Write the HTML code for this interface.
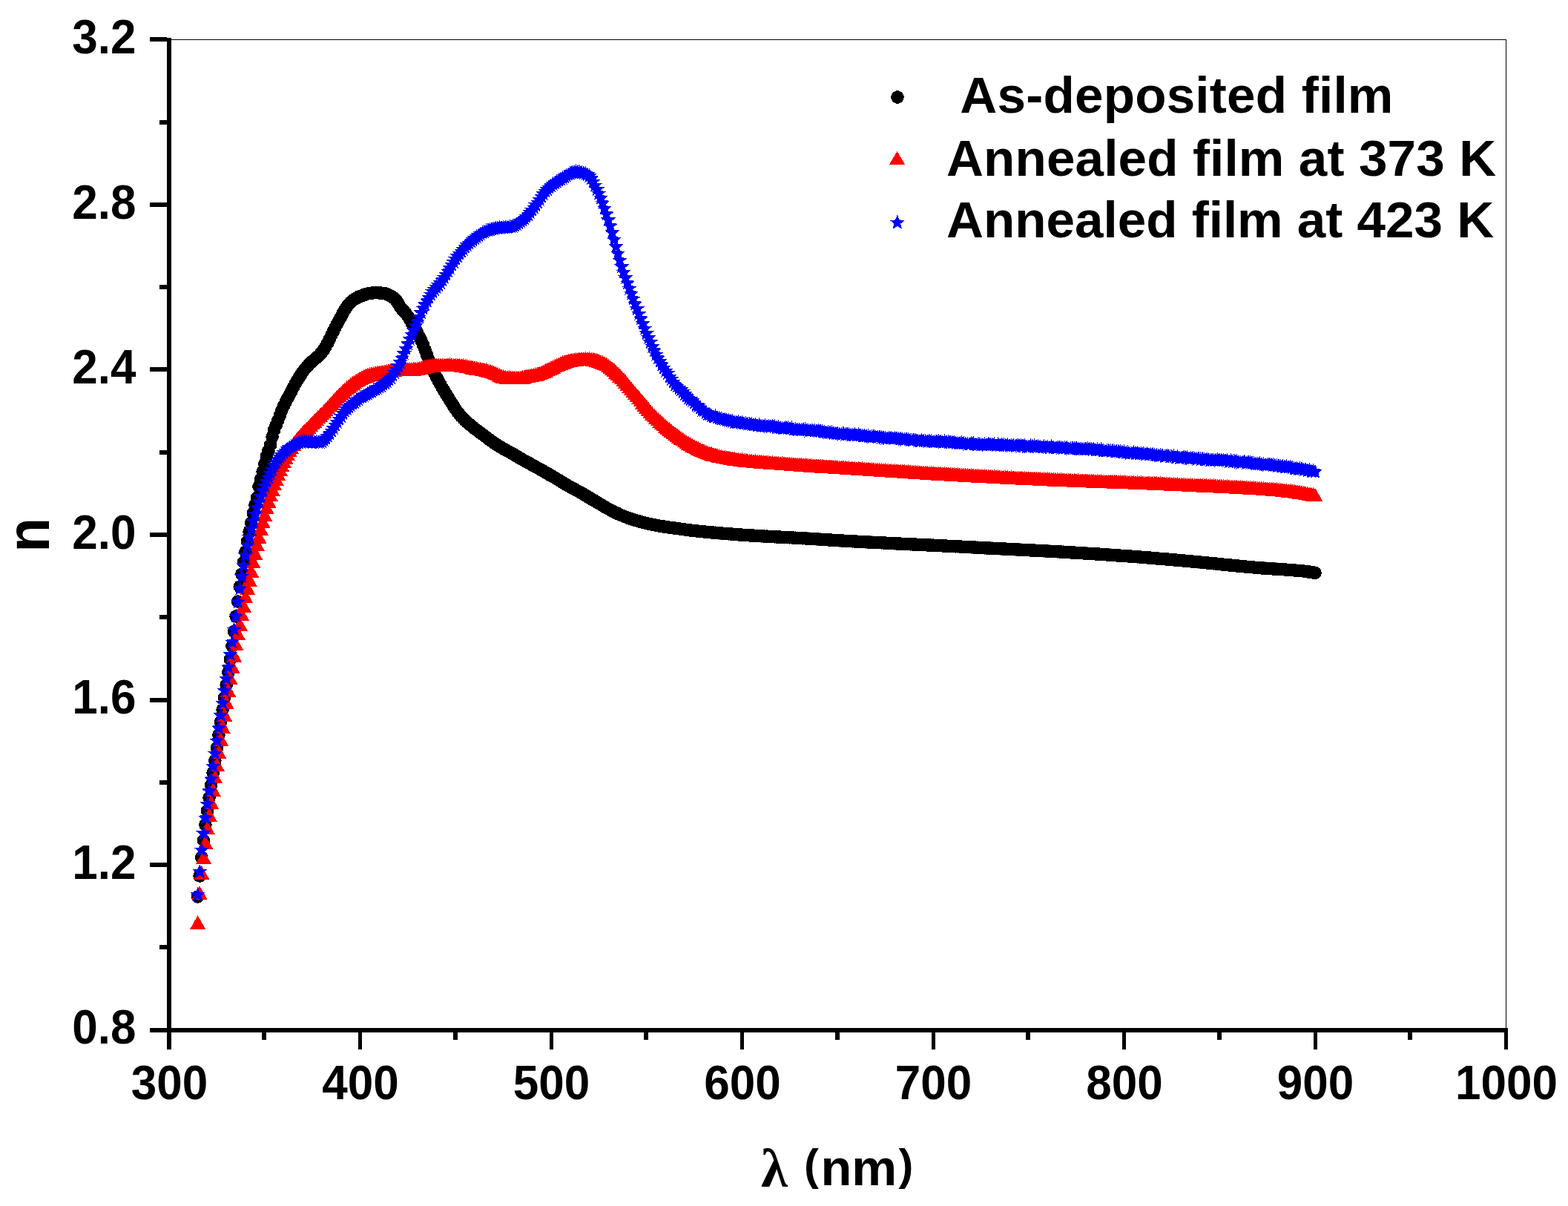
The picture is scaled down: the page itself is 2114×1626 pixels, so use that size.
<!DOCTYPE html>
<html><head><meta charset="utf-8"><title>n vs wavelength</title>
<style>html,body{margin:0;padding:0;background:#fff;overflow:hidden}svg{display:block}</style>
</head><body>
<svg width="2114" height="1626" viewBox="0 0 2114 1626" shape-rendering="crispEdges"><defs><marker id="mc" markerUnits="userSpaceOnUse" markerWidth="20" markerHeight="20" refX="10" refY="10" overflow="visible"><circle cx="10" cy="10" r="8.8" fill="#000"/></marker><marker id="mt" markerUnits="userSpaceOnUse" markerWidth="24" markerHeight="24" refX="12" refY="12" overflow="visible"><path d="M12,2.65 L22.5,21.35 L1.5,21.35Z" fill="#f00"/></marker><marker id="ms" markerUnits="userSpaceOnUse" markerWidth="24" markerHeight="24" refX="12" refY="12" overflow="visible"><path transform="translate(12 12)" d="M0.00,-10.50 L2.76,-3.80 L9.99,-3.24 L4.47,1.45 L6.17,8.49 L0.00,4.70 L-6.17,8.49 L-4.47,1.45 L-9.99,-3.24 L-2.76,-3.80Z" fill="#00f"/></marker></defs><rect x="0" y="0" width="2114" height="1626" fill="#fff"/><rect x="231" y="53" width="1800" height="1" fill="#000"/><rect x="2030" y="53" width="1" height="1334" fill="#000"/><rect x="225" y="51" width="6" height="1341" fill="#000"/><rect x="225" y="1386" width="1808" height="6" fill="#000"/><rect x="202" y="1386" width="23" height="6" fill="#000"/><rect x="202" y="1163" width="23" height="6" fill="#000"/><rect x="202" y="941" width="23" height="6" fill="#000"/><rect x="202" y="718" width="23" height="6" fill="#000"/><rect x="202" y="495" width="23" height="6" fill="#000"/><rect x="202" y="273" width="23" height="6" fill="#000"/><rect x="202" y="50" width="23" height="6" fill="#000"/><rect x="215" y="1274" width="10" height="6" fill="#000"/><rect x="215" y="1052" width="10" height="6" fill="#000"/><rect x="215" y="829" width="10" height="6" fill="#000"/><rect x="215" y="607" width="10" height="6" fill="#000"/><rect x="215" y="384" width="10" height="6" fill="#000"/><rect x="215" y="162" width="10" height="6" fill="#000"/><rect x="483" y="1392" width="5" height="23" fill="#000"/><rect x="741" y="1392" width="5" height="23" fill="#000"/><rect x="998" y="1392" width="5" height="23" fill="#000"/><rect x="1256" y="1392" width="5" height="23" fill="#000"/><rect x="1513" y="1392" width="5" height="23" fill="#000"/><rect x="1771" y="1392" width="5" height="23" fill="#000"/><rect x="2028" y="1392" width="5" height="23" fill="#000"/><rect x="225" y="1392" width="6" height="23" fill="#000"/><rect x="353" y="1392" width="6" height="10" fill="#000"/><rect x="611" y="1392" width="6" height="10" fill="#000"/><rect x="868" y="1392" width="6" height="10" fill="#000"/><rect x="1126" y="1392" width="6" height="10" fill="#000"/><rect x="1383" y="1392" width="6" height="10" fill="#000"/><rect x="1641" y="1392" width="6" height="10" fill="#000"/><rect x="1898" y="1392" width="6" height="10" fill="#000"/><g font-family="Liberation Sans, Arial, sans-serif" font-weight="bold" font-size="62" fill="#000"><text x="183.5" y="0" text-anchor="end" transform="translate(0 1407.4) scale(1 1.04)">0.8</text><text x="183.5" y="0" text-anchor="end" transform="translate(0 1184.9) scale(1 1.04)">1.2</text><text x="183.5" y="0" text-anchor="end" transform="translate(0 962.4) scale(1 1.04)">1.6</text><text x="183.5" y="0" text-anchor="end" transform="translate(0 739.9) scale(1 1.04)">2.0</text><text x="183.5" y="0" text-anchor="end" transform="translate(0 517.4) scale(1 1.04)">2.4</text><text x="183.5" y="0" text-anchor="end" transform="translate(0 294.9) scale(1 1.04)">2.8</text><text x="183.5" y="0" text-anchor="end" transform="translate(0 72.4) scale(1 1.04)">3.2</text><text x="228.5" y="0" text-anchor="middle" transform="translate(0 1481.5) scale(1 1.04)">300</text><text x="486" y="0" text-anchor="middle" transform="translate(0 1481.5) scale(1 1.04)">400</text><text x="743.5" y="0" text-anchor="middle" transform="translate(0 1481.5) scale(1 1.04)">500</text><text x="1001" y="0" text-anchor="middle" transform="translate(0 1481.5) scale(1 1.04)">600</text><text x="1258.5" y="0" text-anchor="middle" transform="translate(0 1481.5) scale(1 1.04)">700</text><text x="1516" y="0" text-anchor="middle" transform="translate(0 1481.5) scale(1 1.04)">800</text><text x="1773.5" y="0" text-anchor="middle" transform="translate(0 1481.5) scale(1 1.04)">900</text><text x="2031" y="0" text-anchor="middle" transform="translate(0 1481.5) scale(1 1.04)">1000</text></g><text x="0" y="0" font-family="Liberation Sans, Arial, sans-serif" font-weight="bold" font-size="76.2" transform="translate(65.7 744.5) rotate(-90) scale(1 1.067)">n</text><g font-weight="bold" fill="#000"><text x="1026.1" y="1599.5" font-family="Liberation Serif, Times New Roman, serif" font-size="73">λ</text><g font-family="Liberation Sans, Arial, sans-serif" font-size="68.5"><text x="1083.6" y="1598" transform="translate(1087 1548) scale(0.87 0.858) translate(-1087 -1548)">(</text><text x="1106.4" y="1598">nm</text><text x="1209.1" y="1598" transform="translate(1228.5 1548) scale(0.87 0.858) translate(-1228.5 -1548)">)</text></g></g><g font-family="Liberation Sans, Arial, sans-serif" font-weight="bold" font-size="69.2" fill="#000"><text x="1277.5" y="152.4" letter-spacing="0.22" xml:space="preserve"> As-deposited film</text><text x="1276" y="236.6" letter-spacing="0.14">Annealed film at 373 K</text><text x="1276" y="320.2">Annealed film at 423 K</text></g><circle cx="1210" cy="131" r="8.8" fill="#000"/><path d="M1209.5,204 L1220,221.6 L1199,221.6Z" fill="#f00"/><path transform="translate(1209.8 300.2)" d="M0.00,-10.50 L2.76,-3.80 L9.99,-3.24 L4.47,1.45 L6.17,8.49 L0.00,4.70 L-6.17,8.49 L-4.47,1.45 L-9.99,-3.24 L-2.76,-3.80Z" fill="#00f"/><polyline fill="none" stroke="none" marker-start="url(#mc)" marker-mid="url(#mc)" marker-end="url(#mc)" points="266.6,1209 269.2,1181 271.8,1156 274.4,1133 276.9,1112 279.5,1093 282.1,1075.5 284.6,1058.5 287.2,1042 289.8,1025.5 292.4,1008.5 294.9,991 297.5,973.5 300.1,957 302.7,940.5 305.2,923.5 307.8,906.5 310.4,889 313,871 315.6,851.5 318.1,831 320.7,811 323.3,791 325.9,774 328.4,758 331,744 333.6,730 336.1,717 338.7,705 341.3,692 343.9,681 346.4,671 349,656.1 351.6,646.2 354.2,636 356.8,625.6 359.3,615.4 361.9,607.7 364.5,600 367.1,589 369.6,579.9 372.2,573.1 374.8,566.7 377.4,559.8 379.9,553.1 382.5,547.2 385.1,542.1 387.6,537.3 390.2,532.6 392.8,527.6 395.4,522.6 398,517.7 400.5,513.3 403.1,509.1 405.7,505.1 408.2,501.4 410.8,497.9 413.4,494.8 416,492 418.6,489.4 421.1,487 423.7,484.8 426.3,482.7 428.9,480.4 431.4,477.8 434,474.8 436.6,471.4 439.1,467.5 441.7,462.7 444.3,457.3 446.9,451.8 449.5,446.6 452,441.6 454.6,436.7 457.2,431.9 459.8,427.2 462.3,422.3 464.9,417.6 467.5,413.7 470.1,410.5 472.6,407.8 475.2,405.4 477.8,403.4 480.4,401.9 482.9,400.6 485.5,399.5 488.1,398.6 490.7,397.7 493.2,396.8 495.8,396 498.4,395.6 501,395.2 503.5,394.9 506.1,394.7 508.7,394.7 511.2,394.8 513.8,395.1 516.4,395.4 519,395.8 521.5,396.6 524.1,397.7 526.7,399 529.3,400.6 531.9,402.7 534.4,405.3 537,409.2 539.6,413.8 542.2,417 544.7,419.7 547.3,422.6 549.9,426.3 552.5,430.7 555,435.3 557.6,439.9 560.2,444.4 562.8,449 565.3,453.9 567.9,459.1 570.5,465 573,471.8 575.6,478.7 578.2,485.3 580.8,491.9 583.4,497.9 585.9,503.4 588.5,508.6 591.1,513.5 593.7,518.2 596.2,522.7 598.8,527 601.4,531.3 604,535.4 606.5,539.6 609.1,543.8 611.7,547.8 614.2,551.7 616.8,555.4 619.4,558.7 622,561.7 624.5,564.4 627.1,566.9 629.7,569.3 632.3,571.5 634.9,573.7 637.4,575.8 640,577.9 642.6,579.8 645.2,581.7 647.7,583.6 650.3,585.5 652.9,587.5 655.5,589.4 658,591.4 660.6,593.3 663.2,595.2 665.8,597 668.3,598.7 670.9,600.3 673.5,601.9 676,603.4 678.6,604.9 681.2,606.3 683.8,607.8 686.4,609.2 688.9,610.7 691.5,612.1 694.1,613.6 696.7,615.1 699.2,616.6 701.8,618.1 704.4,619.5 707,621 709.5,622.5 712.1,623.9 714.7,625.3 717.2,626.7 719.8,628.1 722.4,629.6 725,631 727.5,632.4 730.1,633.9 732.7,635.3 735.3,636.8 737.9,638.3 740.4,639.7 743,641.2 745.6,642.7 748.2,644.2 750.7,645.8 753.3,647.3 755.9,648.9 758.5,650.5 761,652 763.6,653.6 766.2,655.1 768.8,656.5 771.3,657.9 773.9,659.3 776.5,660.6 779.1,662 781.6,663.4 784.2,664.9 786.8,666.4 789.4,667.9 791.9,669.4 794.5,671 797.1,672.5 799.7,674 802.2,675.5 804.8,677 807.4,678.6 810,680.1 812.5,681.7 815.1,683.2 817.7,684.7 820.2,686.2 822.8,687.6 825.4,688.9 828,690.2 830.6,691.4 833.1,692.6 835.7,693.8 838.3,694.9 840.9,696 843.4,697 846,698 848.6,698.9 851.2,699.7 853.7,700.6 856.3,701.4 858.9,702.1 861.5,702.9 864,703.6 866.6,704.3 869.2,704.9 871.8,705.5 874.3,706.1 876.9,706.7 879.5,707.2 882.1,707.7 884.6,708.2 887.2,708.7 889.8,709.2 892.4,709.6 894.9,710 897.5,710.4 900.1,710.8 902.7,711.2 905.2,711.5 907.8,711.9 910.4,712.2 913,712.6 915.5,712.9 918.1,713.3 920.7,713.6 923.2,714 925.8,714.3 928.4,714.6 931,715 933.6,715.3 936.1,715.6 938.7,715.9 941.3,716.1 943.9,716.4 946.4,716.7 949,716.9 951.6,717.2 954.2,717.4 956.7,717.7 959.3,717.9 961.9,718.1 964.5,718.3 967,718.6 969.6,718.8 972.2,719 974.8,719.2 977.3,719.4 979.9,719.6 982.5,719.8 985.1,720 987.6,720.2 990.2,720.4 992.8,720.6 995.4,720.8 997.9,721 1000.5,721.2 1003.1,721.3 1005.7,721.5 1008.2,721.7 1010.8,721.9 1013.4,722 1016,722.2 1018.5,722.4 1021.1,722.5 1023.7,722.7 1026.2,722.8 1028.8,722.9 1031.4,723.1 1034,723.2 1036.6,723.4 1039.1,723.5 1041.7,723.6 1044.3,723.8 1046.8,723.9 1049.4,724 1052,724.2 1054.6,724.3 1057.2,724.4 1059.7,724.5 1062.3,724.7 1064.9,724.8 1067.5,724.9 1070,725.1 1072.6,725.2 1075.2,725.3 1077.8,725.5 1080.3,725.6 1082.9,725.8 1085.5,725.9 1088.1,726.1 1090.6,726.2 1093.2,726.4 1095.8,726.5 1098.3,726.7 1100.9,726.8 1103.5,727 1106.1,727.2 1108.7,727.3 1111.2,727.5 1113.8,727.7 1116.4,727.8 1119,728 1121.5,728.2 1124.1,728.3 1126.7,728.5 1129.2,728.7 1131.8,728.8 1134.4,729 1137,729.1 1139.6,729.3 1142.1,729.4 1144.7,729.6 1147.3,729.7 1149.8,729.8 1152.4,730 1155,730.1 1157.6,730.3 1160.2,730.4 1162.7,730.5 1165.3,730.7 1167.9,730.8 1170.5,731 1173,731.1 1175.6,731.2 1178.2,731.3 1180.8,731.5 1183.3,731.6 1185.9,731.7 1188.5,731.9 1191.1,732 1193.6,732.1 1196.2,732.3 1198.8,732.4 1201.3,732.5 1203.9,732.6 1206.5,732.8 1209.1,732.9 1211.7,733 1214.2,733.1 1216.8,733.3 1219.4,733.4 1222,733.5 1224.5,733.6 1227.1,733.8 1229.7,733.9 1232.2,734 1234.8,734.1 1237.4,734.3 1240,734.4 1242.6,734.5 1245.1,734.6 1247.7,734.7 1250.3,734.9 1252.9,735 1255.4,735.1 1258,735.2 1260.6,735.4 1263.2,735.5 1265.7,735.6 1268.3,735.7 1270.9,735.9 1273.5,736 1276,736.1 1278.6,736.3 1281.2,736.4 1283.8,736.5 1286.3,736.6 1288.9,736.8 1291.5,736.9 1294.1,737 1296.6,737.2 1299.2,737.3 1301.8,737.4 1304.4,737.6 1306.9,737.7 1309.5,737.8 1312.1,737.9 1314.7,738.1 1317.2,738.2 1319.8,738.3 1322.4,738.5 1325,738.6 1327.5,738.7 1330.1,738.9 1332.7,739 1335.2,739.1 1337.8,739.2 1340.4,739.4 1343,739.5 1345.6,739.6 1348.1,739.8 1350.7,739.9 1353.3,740 1355.9,740.1 1358.4,740.3 1361,740.4 1363.6,740.5 1366.2,740.7 1368.7,740.8 1371.3,740.9 1373.9,741.1 1376.5,741.2 1379,741.3 1381.6,741.5 1384.2,741.6 1386.8,741.7 1389.3,741.9 1391.9,742 1394.5,742.1 1397.1,742.3 1399.6,742.4 1402.2,742.5 1404.8,742.7 1407.4,742.8 1409.9,742.9 1412.5,743.1 1415.1,743.2 1417.7,743.4 1420.2,743.5 1422.8,743.7 1425.4,743.8 1428,743.9 1430.5,744.1 1433.1,744.2 1435.7,744.4 1438.2,744.5 1440.8,744.7 1443.4,744.8 1446,745 1448.6,745.1 1451.1,745.3 1453.7,745.4 1456.3,745.6 1458.9,745.7 1461.4,745.9 1464,746.1 1466.6,746.2 1469.2,746.4 1471.7,746.5 1474.3,746.7 1476.9,746.9 1479.5,747 1482,747.2 1484.6,747.4 1487.2,747.5 1489.8,747.7 1492.3,747.9 1494.9,748.1 1497.5,748.2 1500.1,748.4 1502.6,748.6 1505.2,748.8 1507.8,749 1510.4,749.1 1512.9,749.3 1515.5,749.5 1518.1,749.7 1520.7,749.9 1523.2,750.1 1525.8,750.3 1528.4,750.4 1531,750.6 1533.5,750.8 1536.1,751 1538.7,751.2 1541.2,751.4 1543.8,751.6 1546.4,751.8 1549,752 1551.6,752.2 1554.1,752.4 1556.7,752.7 1559.3,752.9 1561.9,753.1 1564.4,753.3 1567,753.5 1569.6,753.7 1572.2,753.9 1574.7,754.1 1577.3,754.4 1579.9,754.6 1582.5,754.8 1585,755 1587.6,755.3 1590.2,755.5 1592.8,755.7 1595.3,755.9 1597.9,756.2 1600.5,756.4 1603.1,756.6 1605.6,756.8 1608.2,757.1 1610.8,757.3 1613.4,757.5 1615.9,757.8 1618.5,758 1621.1,758.3 1623.7,758.5 1626.2,758.8 1628.8,759 1631.4,759.3 1634,759.5 1636.5,759.8 1639.1,760 1641.7,760.3 1644.2,760.6 1646.8,760.8 1649.4,761.1 1652,761.4 1654.6,761.6 1657.1,761.9 1659.7,762.1 1662.3,762.4 1664.9,762.7 1667.4,762.9 1670,763.2 1672.6,763.4 1675.2,763.7 1677.7,763.9 1680.3,764.1 1682.9,764.4 1685.5,764.6 1688,764.8 1690.6,765 1693.2,765.3 1695.8,765.5 1698.3,765.7 1700.9,765.9 1703.5,766 1706.1,766.2 1708.6,766.4 1711.2,766.6 1713.8,766.7 1716.4,766.9 1718.9,767.1 1721.5,767.2 1724.1,767.4 1726.7,767.6 1729.2,767.7 1731.8,767.9 1734.4,768.1 1737,768.3 1739.5,768.5 1742.1,768.7 1744.7,768.9 1747.2,769.1 1749.8,769.3 1752.4,769.6 1755,769.8 1757.6,770.1 1760.1,770.4 1762.7,770.8 1765.3,771.1 1767.9,771.5 1770.4,771.9 1773,772.3"/><polyline fill="none" stroke="none" marker-start="url(#mt)" marker-mid="url(#mt)" marker-end="url(#mt)" points="266.6,1243.5 269.2,1203.5 271.8,1176.3 274.4,1155.4 276.9,1135.6 279.5,1116 282.1,1098.2 284.6,1081.4 287.2,1064.3 289.8,1047 292.4,1030.5 294.9,1013.5 297.5,996.3 300.1,979.2 302.7,963.2 305.2,946.6 307.8,930.5 310.4,914 313,898.2 315.6,883.2 318.1,868 320.7,854 323.3,841.2 325.9,828 328.4,816.3 331,804 333.6,792.3 336.1,781.2 338.7,769.3 341.3,757 343.9,745.5 346.4,733.5 349,723.3 351.6,712.6 354.2,702.8 356.8,693.4 359.3,684 361.9,675.2 364.5,667 367.1,659.3 369.6,651.9 372.2,645.3 374.8,638.6 377.4,632.5 379.9,626.7 382.5,621.7 385.1,616.8 387.6,611.9 390.2,607 392.8,602.6 395.4,598.5 398,595 400.5,592 403.1,589 405.7,586 408.2,583 410.8,580.4 413.4,578 416,575.5 418.6,572.8 421.1,570 423.7,567.2 426.3,564.6 428.9,562.1 431.4,559.6 434,557 436.6,554.3 439.1,551.6 441.7,548.8 444.3,546 446.9,543.2 449.5,540.3 452,537.5 454.6,534.8 457.2,532.2 459.8,529.7 462.3,527.3 464.9,524.9 467.5,522.5 470.1,520.3 472.6,518.2 475.2,516.3 477.8,514.6 480.4,513 482.9,511.4 485.5,509.9 488.1,508.6 490.7,507.3 493.2,506.2 495.8,505.3 498.4,504.6 501,503.9 503.5,503.3 506.1,502.8 508.7,502.3 511.2,501.9 513.8,501.5 516.4,501 519,500.6 521.5,500.1 524.1,499.6 526.7,499.2 529.3,498.8 531.9,498.4 534.4,498.1 537,497.9 539.6,497.8 542.2,497.7 544.7,497.6 547.3,497.5 549.9,497.5 552.5,497.4 555,497.3 557.6,497.2 560.2,497 562.8,496.6 565.3,496.1 567.9,495.4 570.5,494.6 573,493.8 575.6,493.2 578.2,492.7 580.8,492.4 583.4,492.3 585.9,492.1 588.5,492 591.1,491.9 593.7,491.8 596.2,491.7 598.8,491.7 601.4,491.7 604,491.7 606.5,491.7 609.1,491.8 611.7,491.8 614.2,491.9 616.8,491.9 619.4,492 622,492.2 624.5,492.5 627.1,493 629.7,493.5 632.3,494.1 634.9,494.7 637.4,495.2 640,495.7 642.6,496.2 645.2,496.7 647.7,497.1 650.3,497.6 652.9,498.1 655.5,498.7 658,499.3 660.6,500.1 663.2,501 665.8,502.1 668.3,503 670.9,504.1 673.5,505.2 676,506.3 678.6,507.3 681.2,508.1 683.8,508.5 686.4,508.6 688.9,508.8 691.5,508.9 694.1,509 696.7,509 699.2,509 701.8,508.7 704.4,508.2 707,507.7 709.5,507 712.1,506.5 714.7,506 717.2,505.5 719.8,504.9 722.4,504.3 725,503.7 727.5,502.9 730.1,501.9 732.7,500.7 735.3,499.4 737.9,498.1 740.4,496.8 743,495.6 745.6,494.3 748.2,493.1 750.7,491.8 753.3,490.7 755.9,489.6 758.5,488.7 761,487.8 763.6,486.9 766.2,486.1 768.8,485.4 771.3,485 773.9,484.6 776.5,484.2 779.1,483.9 781.6,483.7 784.2,483.5 786.8,483.5 789.4,483.5 791.9,483.7 794.5,483.8 797.1,484 799.7,484.3 802.2,484.6 804.8,485.3 807.4,486.2 810,487.2 812.5,488.4 815.1,489.7 817.7,491 820.2,492.7 822.8,494.6 825.4,496.7 828,498.9 830.6,501.3 833.1,503.7 835.7,506.2 838.3,508.8 840.9,511.6 843.4,514.6 846,517.6 848.6,520.7 851.2,523.8 853.7,526.8 856.3,529.9 858.9,532.9 861.5,536 864,539.1 866.6,542.2 869.2,545.2 871.8,548.3 874.3,551.3 876.9,554.4 879.5,557.3 882.1,560 884.6,562.5 887.2,565 889.8,567.4 892.4,569.7 894.9,572 897.5,574.2 900.1,576.4 902.7,578.5 905.2,580.6 907.8,582.7 910.4,584.7 913,586.7 915.5,588.5 918.1,590.4 920.7,592.1 923.2,593.9 925.8,595.6 928.4,597.3 931,598.9 933.6,600.4 936.1,601.8 938.7,603.1 941.3,604.4 943.9,605.6 946.4,606.7 949,607.7 951.6,608.8 954.2,609.7 956.7,610.6 959.3,611.4 961.9,612.2 964.5,613 967,613.7 969.6,614.4 972.2,615 974.8,615.6 977.3,616.1 979.9,616.6 982.5,617 985.1,617.5 987.6,617.9 990.2,618.3 992.8,618.6 995.4,619 997.9,619.4 1000.5,619.7 1003.1,620 1005.7,620.3 1008.2,620.6 1010.8,620.9 1013.4,621.1 1016,621.4 1018.5,621.6 1021.1,621.9 1023.7,622.1 1026.2,622.3 1028.8,622.5 1031.4,622.7 1034,622.9 1036.6,623 1039.1,623.2 1041.7,623.4 1044.3,623.5 1046.8,623.7 1049.4,623.9 1052,624.1 1054.6,624.3 1057.2,624.4 1059.7,624.6 1062.3,624.8 1064.9,625 1067.5,625.2 1070,625.4 1072.6,625.7 1075.2,625.9 1077.8,626.1 1080.3,626.3 1082.9,626.5 1085.5,626.7 1088.1,626.8 1090.6,627 1093.2,627.2 1095.8,627.4 1098.3,627.6 1100.9,627.7 1103.5,627.9 1106.1,628.1 1108.7,628.2 1111.2,628.4 1113.8,628.5 1116.4,628.7 1119,628.8 1121.5,629 1124.1,629.1 1126.7,629.3 1129.2,629.5 1131.8,629.6 1134.4,629.8 1137,629.9 1139.6,630.1 1142.1,630.2 1144.7,630.4 1147.3,630.6 1149.8,630.7 1152.4,630.9 1155,631 1157.6,631.2 1160.2,631.4 1162.7,631.5 1165.3,631.7 1167.9,631.9 1170.5,632 1173,632.2 1175.6,632.4 1178.2,632.5 1180.8,632.7 1183.3,632.9 1185.9,633 1188.5,633.2 1191.1,633.4 1193.6,633.6 1196.2,633.7 1198.8,633.9 1201.3,634.1 1203.9,634.2 1206.5,634.4 1209.1,634.6 1211.7,634.7 1214.2,634.9 1216.8,635.1 1219.4,635.2 1222,635.4 1224.5,635.6 1227.1,635.7 1229.7,635.9 1232.2,636.1 1234.8,636.2 1237.4,636.4 1240,636.6 1242.6,636.7 1245.1,636.9 1247.7,637.1 1250.3,637.2 1252.9,637.4 1255.4,637.5 1258,637.7 1260.6,637.9 1263.2,638 1265.7,638.2 1268.3,638.3 1270.9,638.5 1273.5,638.6 1276,638.8 1278.6,638.9 1281.2,639.1 1283.8,639.2 1286.3,639.4 1288.9,639.5 1291.5,639.7 1294.1,639.8 1296.6,640 1299.2,640.1 1301.8,640.2 1304.4,640.4 1306.9,640.5 1309.5,640.7 1312.1,640.8 1314.7,640.9 1317.2,641.1 1319.8,641.2 1322.4,641.3 1325,641.5 1327.5,641.6 1330.1,641.7 1332.7,641.9 1335.2,642 1337.8,642.1 1340.4,642.3 1343,642.4 1345.6,642.5 1348.1,642.7 1350.7,642.8 1353.3,642.9 1355.9,643 1358.4,643.2 1361,643.3 1363.6,643.4 1366.2,643.5 1368.7,643.7 1371.3,643.8 1373.9,643.9 1376.5,644 1379,644.2 1381.6,644.3 1384.2,644.4 1386.8,644.5 1389.3,644.6 1391.9,644.8 1394.5,644.9 1397.1,645 1399.6,645.1 1402.2,645.2 1404.8,645.4 1407.4,645.5 1409.9,645.6 1412.5,645.7 1415.1,645.8 1417.7,645.9 1420.2,646 1422.8,646.2 1425.4,646.3 1428,646.4 1430.5,646.5 1433.1,646.6 1435.7,646.7 1438.2,646.8 1440.8,646.9 1443.4,647 1446,647.1 1448.6,647.2 1451.1,647.3 1453.7,647.5 1456.3,647.6 1458.9,647.7 1461.4,647.8 1464,647.9 1466.6,647.9 1469.2,648 1471.7,648.1 1474.3,648.2 1476.9,648.3 1479.5,648.4 1482,648.5 1484.6,648.6 1487.2,648.7 1489.8,648.8 1492.3,648.9 1494.9,648.9 1497.5,649 1500.1,649.1 1502.6,649.2 1505.2,649.3 1507.8,649.4 1510.4,649.5 1512.9,649.6 1515.5,649.6 1518.1,649.7 1520.7,649.8 1523.2,649.9 1525.8,650 1528.4,650.1 1531,650.2 1533.5,650.3 1536.1,650.4 1538.7,650.5 1541.2,650.6 1543.8,650.7 1546.4,650.8 1549,650.9 1551.6,651 1554.1,651.1 1556.7,651.3 1559.3,651.4 1561.9,651.5 1564.4,651.6 1567,651.7 1569.6,651.8 1572.2,651.9 1574.7,652 1577.3,652.1 1579.9,652.2 1582.5,652.3 1585,652.5 1587.6,652.6 1590.2,652.7 1592.8,652.8 1595.3,652.9 1597.9,653 1600.5,653.1 1603.1,653.3 1605.6,653.4 1608.2,653.5 1610.8,653.6 1613.4,653.7 1615.9,653.8 1618.5,653.9 1621.1,654.1 1623.7,654.2 1626.2,654.3 1628.8,654.4 1631.4,654.5 1634,654.6 1636.5,654.7 1639.1,654.8 1641.7,655 1644.2,655.1 1646.8,655.2 1649.4,655.3 1652,655.4 1654.6,655.5 1657.1,655.7 1659.7,655.8 1662.3,655.9 1664.9,656 1667.4,656.2 1670,656.3 1672.6,656.4 1675.2,656.6 1677.7,656.7 1680.3,656.9 1682.9,657 1685.5,657.2 1688,657.3 1690.6,657.5 1693.2,657.6 1695.8,657.8 1698.3,658 1700.9,658.1 1703.5,658.3 1706.1,658.5 1708.6,658.7 1711.2,658.9 1713.8,659 1716.4,659.2 1718.9,659.5 1721.5,659.7 1724.1,659.9 1726.7,660.1 1729.2,660.4 1731.8,660.6 1734.4,660.9 1737,661.2 1739.5,661.4 1742.1,661.7 1744.7,662.1 1747.2,662.4 1749.8,662.8 1752.4,663.2 1755,663.7 1757.6,664.1 1760.1,664.6 1762.7,665.1 1765.3,665.6 1767.9,666.1 1770.4,666.6 1773,667"/><polyline fill="none" stroke="none" marker-start="url(#ms)" marker-mid="url(#ms)" marker-end="url(#ms)" points="266.6,1206.4 269.2,1175.4 271.8,1146.3 274.4,1123.7 276.9,1103 279.5,1084.2 282.1,1066.8 284.6,1050.9 287.2,1033.4 289.8,1016.2 292.4,999 294.9,981.9 297.5,964.7 300.1,948.1 302.7,931.5 305.2,915.4 307.8,899.9 310.4,882.8 313,866 315.6,849 318.1,831 320.7,812 323.3,794 325.9,777.5 328.4,762.5 331,748.7 333.6,735.9 336.1,724.5 338.7,713.2 341.3,703 343.9,693.5 346.4,685 349,677 351.6,669.5 354.2,662 356.8,655.5 359.3,649.5 361.9,644 364.5,638.5 367.1,633.5 369.6,627.7 372.2,623.5 374.8,620 377.4,616.8 379.9,613.7 382.5,610.8 385.1,608.1 387.6,605.8 390.2,603.7 392.8,601.9 395.4,600.3 398,599 400.5,598 403.1,597 405.7,596.3 408.2,596 410.8,596.1 413.4,596.3 416,596.4 418.6,596.5 421.1,596.5 423.7,596.5 426.3,596.5 428.9,596.5 431.4,596.2 434,595.5 436.6,593.6 439.1,591.1 441.7,588.2 444.3,584.9 446.9,581.2 449.5,577.3 452,573.3 454.6,569.3 457.2,565.2 459.8,561.4 462.3,557.7 464.9,554.3 467.5,551.4 470.1,548.8 472.6,546.5 475.2,544.4 477.8,542.6 480.4,540.7 482.9,538.5 485.5,536.7 488.1,535.1 490.7,533.8 493.2,532.4 495.8,531.1 498.4,529.6 501,528.2 503.5,526.7 506.1,525.2 508.7,523.7 511.2,522.1 513.8,520.4 516.4,518.6 519,516.6 521.5,514.4 524.1,512 526.7,509.3 529.3,506.2 531.9,502.5 534.4,498.3 537,493.7 539.6,488.8 542.2,483 544.7,476.6 547.3,470.3 549.9,463.8 552.5,457.2 555,451.1 557.6,445.4 560.2,439.8 562.8,434 565.3,427.9 567.9,421.7 570.5,415.9 573,410.8 575.6,405.9 578.2,401.4 580.8,397.3 583.4,393.7 585.9,390.5 588.5,387.5 591.1,384.5 593.7,381.4 596.2,377.9 598.8,374.2 601.4,370.3 604,366 606.5,361.6 609.1,357.3 611.7,353.3 614.2,349.5 616.8,345.8 619.4,342.3 622,339.2 624.5,336.2 627.1,333.3 629.7,330.7 632.3,328.2 634.9,325.9 637.4,323.8 640,321.6 642.6,319.6 645.2,317.6 647.7,315.8 650.3,314.2 652.9,312.8 655.5,311.7 658,310.7 660.6,309.9 663.2,309.2 665.8,308.6 668.3,308 670.9,307.6 673.5,307.4 676,307.2 678.6,307 681.2,306.8 683.8,306.6 686.4,306.3 688.9,305.9 691.5,305.3 694.1,304.4 696.7,302.7 699.2,300.6 701.8,298.7 704.4,296.9 707,295 709.5,292.7 712.1,289.9 714.7,286.8 717.2,283.5 719.8,280.1 722.4,276.7 725,273.2 727.5,269.3 730.1,265.3 732.7,261.5 735.3,258.1 737.9,255.4 740.4,253 743,250.8 745.6,248.7 748.2,246.8 750.7,245.1 753.3,243.4 755.9,241.8 758.5,240.3 761,238.7 763.6,237 766.2,235.4 768.8,234 771.3,232.9 773.9,232.2 776.5,231.9 779.1,232 781.6,232.4 784.2,233 786.8,233.7 789.4,234.6 791.9,235.7 794.5,237.5 797.1,240.8 799.7,245.2 802.2,250.3 804.8,255.7 807.4,261.1 810,267.1 812.5,273.9 815.1,281.2 817.7,288.9 820.2,296.7 822.8,304.9 825.4,313.8 828,323.1 830.6,332.6 833.1,342.1 835.7,351.1 838.3,359.6 840.9,367.3 843.4,374.7 846,381.9 848.6,389.1 851.2,396.1 853.7,403 856.3,409.9 858.9,416.6 861.5,423.3 864,429.9 866.6,436.5 869.2,443.2 871.8,449.6 874.3,455.7 876.9,461.6 879.5,467.4 882.1,472.9 884.6,478.1 887.2,482.9 889.8,487.5 892.4,491.9 894.9,496.2 897.5,500.3 900.1,503.5 902.7,508.5 905.2,511.4 907.8,515.3 910.4,518.9 913,521 915.5,523.8 918.1,525.7 920.7,528.7 923.2,531.6 925.8,534.4 928.4,537 931,538.5 933.6,540.3 936.1,543.1 938.7,546.7 941.3,547.7 943.9,550.4 946.4,553.4 949,553.8 951.6,556.7 954.2,558.9 956.7,558.9 959.3,560.6 961.9,562.2 964.5,561.7 967,563.3 969.6,564.5 972.2,565.1 974.8,565.5 977.3,565.7 979.9,566.8 982.5,567.2 985.1,567.9 987.6,568.3 990.2,569.6 992.8,570 995.4,569.6 997.9,570.5 1000.5,570.4 1003.1,571.1 1005.7,571.3 1008.2,572.2 1010.8,572.1 1013.4,572.6 1016,573.4 1018.5,573.1 1021.1,574.3 1023.7,573.3 1026.2,574.6 1028.8,574.3 1031.4,574.6 1034,575.2 1036.6,575.3 1039.1,575.4 1041.7,574.9 1044.3,575.4 1046.8,576.7 1049.4,576.7 1052,577.2 1054.6,577.9 1057.2,577.7 1059.7,576.8 1062.3,577.5 1064.9,578.3 1067.5,577.9 1070,579.4 1072.6,579.6 1075.2,579.7 1077.8,579.3 1080.3,580.2 1082.9,579.2 1085.5,579.8 1088.1,580.3 1090.6,581.1 1093.2,580.8 1095.8,580.5 1098.3,581.1 1100.9,581.3 1103.5,581.5 1106.1,581.5 1108.7,582.3 1111.2,582.6 1113.8,583.4 1116.4,583.7 1119,583.5 1121.5,583.7 1124.1,584.5 1126.7,585 1129.2,584.9 1131.8,585.4 1134.4,585.9 1137,584.6 1139.6,586.3 1142.1,585.5 1144.7,586.1 1147.3,586.9 1149.8,587 1152.4,586.2 1155,587.4 1157.6,586.6 1160.2,587.3 1162.7,588.4 1165.3,587.9 1167.9,588.4 1170.5,588.9 1173,589.3 1175.6,589.4 1178.2,588.3 1180.8,589.3 1183.3,589.6 1185.9,589.1 1188.5,590.2 1191.1,590.5 1193.6,591.1 1196.2,591.5 1198.8,590.3 1201.3,590.7 1203.9,591.7 1206.5,591 1209.1,591.3 1211.7,592.2 1214.2,591.7 1216.8,593 1219.4,593.3 1222,592 1224.5,593.1 1227.1,593.8 1229.7,594.3 1232.2,593.3 1234.8,593.3 1237.4,594.8 1240,595 1242.6,593.9 1245.1,594.6 1247.7,595.2 1250.3,595.7 1252.9,594.6 1255.4,595.7 1258,596.1 1260.6,595.9 1263.2,595.3 1265.7,595.3 1268.3,595.9 1270.9,597 1273.5,595.8 1276,595.9 1278.6,596.7 1281.2,596.3 1283.8,596.7 1286.3,596.6 1288.9,597.6 1291.5,598.1 1294.1,597.8 1296.6,597.4 1299.2,597.9 1301.8,598.5 1304.4,599.3 1306.9,599.5 1309.5,598.3 1312.1,598 1314.7,599.6 1317.2,599.9 1319.8,599.2 1322.4,599.9 1325,600.2 1327.5,599.8 1330.1,600.4 1332.7,599 1335.2,599.6 1337.8,599.7 1340.4,599.5 1343,601 1345.6,599.6 1348.1,600.8 1350.7,599.8 1353.3,600.5 1355.9,600.7 1358.4,600.3 1361,601.1 1363.6,601.2 1366.2,600.9 1368.7,601.7 1371.3,600.8 1373.9,601 1376.5,601.4 1379,601.5 1381.6,601.3 1384.2,602.7 1386.8,602.6 1389.3,601.4 1391.9,602 1394.5,601.8 1397.1,602.3 1399.6,602.1 1402.2,602.6 1404.8,603.5 1407.4,602.6 1409.9,603.2 1412.5,603.2 1415.1,603.6 1417.7,602.5 1420.2,603.8 1422.8,604.3 1425.4,603.8 1428,603.4 1430.5,604.2 1433.1,604.4 1435.7,604.4 1438.2,603.6 1440.8,605.3 1443.4,605.4 1446,604.6 1448.6,605 1451.1,604.1 1453.7,606 1456.3,605.9 1458.9,605.7 1461.4,606.1 1464,605.2 1466.6,605.6 1469.2,605.7 1471.7,606.5 1474.3,605.8 1476.9,607.4 1479.5,606.9 1482,607 1484.6,606.6 1487.2,607.9 1489.8,608.3 1492.3,608.2 1494.9,607.7 1497.5,608.9 1500.1,608 1502.6,609.5 1505.2,609.2 1507.8,608.9 1510.4,609.6 1512.9,610 1515.5,609.6 1518.1,610.8 1520.7,610.3 1523.2,611.4 1525.8,611.5 1528.4,610.4 1531,611.6 1533.5,611.2 1536.1,612.3 1538.7,612.1 1541.2,612.2 1543.8,613.2 1546.4,611.9 1549,613.1 1551.6,612.9 1554.1,612.6 1556.7,614.2 1559.3,614.1 1561.9,614.9 1564.4,614.6 1567,614.4 1569.6,615.8 1572.2,614.5 1574.7,614.6 1577.3,616.1 1579.9,615.7 1582.5,615.9 1585,617.1 1587.6,616.3 1590.2,617.6 1592.8,617.4 1595.3,617 1597.9,616.8 1600.5,617.3 1603.1,618.9 1605.6,618.1 1608.2,617.9 1610.8,618.3 1613.4,619.6 1615.9,618.5 1618.5,619.8 1621.1,618.9 1623.7,620.5 1626.2,620 1628.8,619.3 1631.4,621.1 1634,620.2 1636.5,621.1 1639.1,620.9 1641.7,620.3 1644.2,620.5 1646.8,620.7 1649.4,620.9 1652,620.9 1654.6,621.1 1657.1,622.9 1659.7,621.5 1662.3,622.5 1664.9,622 1667.4,622.3 1670,623.5 1672.6,624.1 1675.2,623.4 1677.7,622.8 1680.3,624.8 1682.9,623.3 1685.5,624.2 1688,624.7 1690.6,625.5 1693.2,625.7 1695.8,625.6 1698.3,625.4 1700.9,626.5 1703.5,626.8 1706.1,627.1 1708.6,627.1 1711.2,626.3 1713.8,627 1716.4,627.6 1718.9,628 1721.5,628.9 1724.1,628.2 1726.7,629.3 1729.2,629.1 1731.8,630.2 1734.4,629.5 1737,630.3 1739.5,630 1742.1,630.6 1744.7,632.3 1747.2,631.6 1749.8,633 1752.4,632.7 1755,632.3 1757.6,634 1760.1,633.2 1762.7,635 1765.3,634.1 1767.9,635.8 1770.4,635.4 1773,636.2"/></svg>
</body></html>
